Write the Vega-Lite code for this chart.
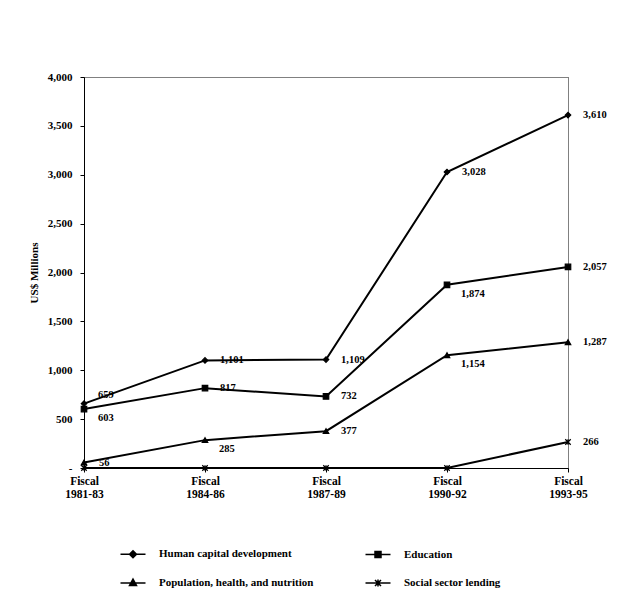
{
  "$schema": "https://vega.github.io/schema/vega-lite/v6.json",
  "width": 484,
  "height": 391,
  "autosize": {"type": "none"},
  "padding": {"left": 84, "top": 77, "right": 49, "bottom": 147},
  "background": "white",
  "config": {
    "view": {"stroke": "black", "strokeDash": [1, 1], "strokeWidth": 1},
    "font": "Liberation Serif",
    "axis": {"labelFont": "Liberation Serif", "titleFont": "Liberation Serif", "labelFontWeight": "bold", "labelColor": "black", "domainColor": "black", "tickColor": "black", "titleColor": "black"},
    "legend": {"labelFont": "Liberation Serif", "labelFontWeight": "bold", "labelColor": "black"}
  },
  "data": {
    "values": [
      {"period": "Fiscal 1981-83", "series": "Human capital development", "value": 659},
      {"period": "Fiscal 1984-86", "series": "Human capital development", "value": 1101},
      {"period": "Fiscal 1987-89", "series": "Human capital development", "value": 1109},
      {"period": "Fiscal 1990-92", "series": "Human capital development", "value": 3028},
      {"period": "Fiscal 1993-95", "series": "Human capital development", "value": 3610},
      {"period": "Fiscal 1981-83", "series": "Education", "value": 603},
      {"period": "Fiscal 1984-86", "series": "Education", "value": 817},
      {"period": "Fiscal 1987-89", "series": "Education", "value": 732},
      {"period": "Fiscal 1990-92", "series": "Education", "value": 1874},
      {"period": "Fiscal 1993-95", "series": "Education", "value": 2057},
      {"period": "Fiscal 1981-83", "series": "Population, health, and nutrition", "value": 56},
      {"period": "Fiscal 1984-86", "series": "Population, health, and nutrition", "value": 285},
      {"period": "Fiscal 1987-89", "series": "Population, health, and nutrition", "value": 377},
      {"period": "Fiscal 1990-92", "series": "Population, health, and nutrition", "value": 1154},
      {"period": "Fiscal 1993-95", "series": "Population, health, and nutrition", "value": 1287},
      {"period": "Fiscal 1981-83", "series": "Social sector lending", "value": 0},
      {"period": "Fiscal 1984-86", "series": "Social sector lending", "value": 0},
      {"period": "Fiscal 1987-89", "series": "Social sector lending", "value": 0},
      {"period": "Fiscal 1990-92", "series": "Social sector lending", "value": 0},
      {"period": "Fiscal 1993-95", "series": "Social sector lending", "value": 266}
    ]
  },
  "encoding": {
    "x": {
      "field": "period", "type": "ordinal",
      "scale": {"type": "point", "padding": 0},
      "axis": {"title": null, "labelAngle": 0, "labelExpr": "split(datum.label, ' ')", "labelFontSize": 11.5, "labelLineHeight": 13, "tickSize": 4, "labelPadding": 3, "grid": false}
    },
    "y": {
      "field": "value", "type": "quantitative",
      "scale": {"domain": [0, 4000], "nice": false},
      "axis": {"title": "US$ Millions", "titleFontSize": 11, "titleFontWeight": "bold", "titlePadding": 8, "values": [0, 500, 1000, 1500, 2000, 2500, 3000, 3500, 4000], "format": ",.0f", "labelExpr": "datum.value == 0 ? '-' : datum.label", "labelFontSize": 11, "tickSize": 4, "labelPadding": 8, "grid": false}
    }
  },
  "layer": [
    {
      "mark": {"type": "line", "color": "black", "strokeWidth": 2},
      "encoding": {"detail": {"field": "series"}}
    },
    {
      "mark": {"type": "point", "filled": true, "color": "black", "stroke": "black", "strokeWidth": 1.2, "size": 30, "opacity": 1},
      "encoding": {
        "shape": {
          "field": "series", "type": "nominal",
          "scale": {"domain": ["Human capital development", "Education", "Population, health, and nutrition", "Social sector lending"], "range": ["diamond", "square", "triangle-up", "M-1,-1L1,1M-1,1L1,-1M0,-1L0,1"]},
          "legend": null
        }
      }
    },
    {
      "mark": {"type": "point", "filled": false, "color": "black", "strokeWidth": 1.5, "opacity": 0},
      "encoding": {
        "shape": {
          "field": "series", "type": "nominal",
          "scale": {"domain": ["Human capital development", "Population, health, and nutrition", "Education", "Social sector lending"], "range": [
            "M-1.25,0L1.25,0M0,-0.35L0.35,0L0,0.35L-0.35,0ZM0,-0.18L0.18,0L0,0.18L-0.18,0ZM0,-0.3L0,0.3",
            "M-1.25,0L1.25,0M0,-0.4L0.35,0.25L-0.35,0.25ZM0,-0.2L0.18,0.15L-0.18,0.15ZM0,-0.35L0,0.25",
            "M-1.25,0L1.25,0M-0.3,-0.3L0.3,-0.3L0.3,0.3L-0.3,0.3ZM-0.15,-0.15L0.15,-0.15L0.15,0.15L-0.15,0.15ZM0,-0.3L0,0.3",
            "M-1.25,0L1.25,0M-0.3,-0.3L0.3,0.3M-0.3,0.3L0.3,-0.3M0,-0.35L0,0.35"
          ]},
          "legend": {
            "title": null, "orient": "none", "legendX": 38, "legendY": 466, "columns": 2, "columnPadding": 48, "rowPadding": 11,
            "symbolSize": 400, "symbolOpacity": 1, "symbolFillColor": "black", "symbolStrokeColor": "black", "symbolStrokeWidth": 1.5,
            "labelFontSize": 11, "labelOffset": 15, "labelLimit": 300,
            "encode": {"symbols": {"update": {"stroke": {"value": "black"}, "strokeWidth": {"value": 1.5}, "opacity": {"value": 1}, "strokeOpacity": {"value": 1}}}}
          }
        }
      }
    },
    {
      "transform": [{"filter": "datum.value > 0 && !((datum.series == 'Human capital development' && datum.period == 'Fiscal 1981-83') || (datum.series == 'Education' && datum.period == 'Fiscal 1981-83') || (datum.series == 'Population, health, and nutrition' && datum.period == 'Fiscal 1984-86') || (datum.series == 'Education' && datum.period == 'Fiscal 1990-92') || (datum.series == 'Population, health, and nutrition' && datum.period == 'Fiscal 1990-92'))"}],
      "mark": {"type": "text", "align": "left", "baseline": "middle", "dx": 15, "dy": 0, "font": "Liberation Serif", "fontWeight": "bold", "fontSize": 10.5, "color": "black"},
      "encoding": {"text": {"field": "value", "type": "quantitative", "format": ","}}
    },
    {
      "transform": [{"filter": "(datum.series == 'Education' && datum.period == 'Fiscal 1981-83') || (datum.series == 'Population, health, and nutrition' && datum.period == 'Fiscal 1984-86') || (datum.series == 'Education' && datum.period == 'Fiscal 1990-92') || (datum.series == 'Population, health, and nutrition' && datum.period == 'Fiscal 1990-92')"}],
      "mark": {"type": "text", "align": "left", "baseline": "middle", "dx": 14, "dy": 9, "font": "Liberation Serif", "fontWeight": "bold", "fontSize": 10.5, "color": "black"},
      "encoding": {"text": {"field": "value", "type": "quantitative", "format": ","}}
    },
    {
      "transform": [{"filter": "datum.series == 'Human capital development' && datum.period == 'Fiscal 1981-83'"}],
      "mark": {"type": "text", "align": "left", "baseline": "middle", "dx": 14, "dy": -9, "font": "Liberation Serif", "fontWeight": "bold", "fontSize": 10.5, "color": "black"},
      "encoding": {"text": {"field": "value", "type": "quantitative", "format": ","}}
    }
  ],
  "resolve": {"scale": {"shape": "independent"}, "legend": {"shape": "independent"}}
}
